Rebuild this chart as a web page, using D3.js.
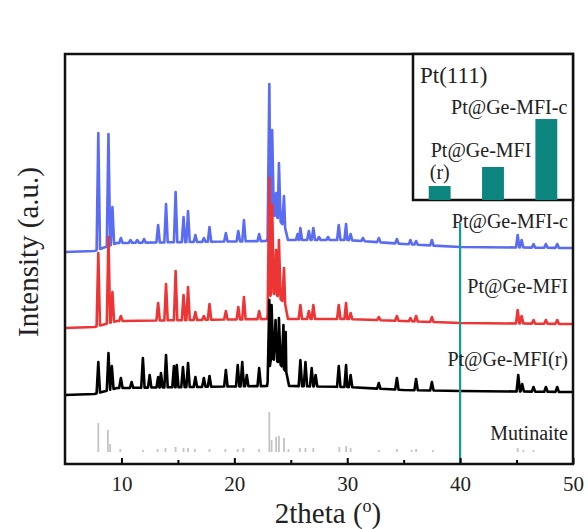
<!DOCTYPE html>
<html>
<head>
  <meta charset="utf-8">
  <title>XRD patterns of Pt@Ge-MFI samples</title>
  <script src="https://d3js.org/d3.v7.min.js"></script>
  <style>
    body { margin: 0; background: #fff; }
    text { font-family: "Liberation Serif", "Times New Roman", serif; }
  </style>
</head>
<body>
<div id="chart"></div>
<script>

// x axis ticks (2theta, degrees)
const xTicks = [10, 20, 30, 40, 50];
const xMinorTicks = [15, 25, 35, 45];

// Background level of each trace, [2theta, intensity]
const baseBlue = [[5, 212], [7.6, 213], [9.6, 221], [22.9, 223], [23.25, 250], [23.85, 246], [24.5, 236], [24.75, 224], [30, 224], [35, 220], [40, 217], [50, 216]];
const baseRed = [[5, 136], [7.6, 137], [9.6, 143], [22.9, 145], [23.25, 172], [23.85, 168], [24.5, 160], [24.75, 145], [30, 145], [35, 143], [40, 141], [50, 140]];
const baseBlack = [[5, 69], [7.6, 70], [9.6, 76], [22.9, 78], [23.25, 106], [23.9, 102], [24.6, 92], [24.85, 78], [30, 77], [35, 74], [40, 73], [50, 72]];

// Peak tops, [2theta, intensity]
const peaksBlue = [[7.95, 331], [8.85, 330], [9.2, 257], [9.95, 226], [10.8, 224], [11.4, 224], [12.0, 225], [13.25, 239], [13.95, 260], [14.8, 272], [15.5, 247], [15.9, 253], [16.55, 229], [17.3, 226], [17.8, 237], [19.25, 231], [20.35, 233], [20.85, 244], [22.2, 230], [23.1, 380], [23.35, 334], [23.7, 271], [23.95, 301], [24.4, 268], [25.6, 230], [25.85, 236], [26.6, 233], [27.0, 236], [27.5, 227], [28.3, 227], [29.25, 239], [29.9, 240], [30.3, 230], [31.4, 226], [32.8, 226], [34.4, 225], [35.6, 224], [36.1, 223], [37.5, 224], [45.1, 229], [45.45, 224], [46.5, 220], [47.6, 220], [48.6, 220]];
const peaksRed = [[7.95, 211], [8.85, 227], [9.2, 172], [9.95, 148], [13.25, 161], [13.95, 180], [14.8, 193], [15.5, 169], [15.9, 177], [16.55, 152], [17.3, 148], [17.8, 160], [19.25, 153], [20.35, 157], [20.85, 167], [22.2, 153], [23.1, 286], [23.35, 259], [23.7, 214], [23.95, 224], [24.4, 196], [25.85, 159], [26.6, 153], [27.0, 159], [29.25, 159], [29.9, 161], [30.3, 151], [32.8, 147], [34.4, 148], [35.6, 146], [36.1, 148], [37.5, 147], [45.1, 154], [45.45, 148], [46.5, 144], [47.6, 144], [48.6, 144]];
const peaksBlack = [[7.95, 102], [8.85, 111], [9.15, 98], [9.95, 86], [10.9, 82], [11.9, 106], [12.5, 89], [13.25, 87], [13.5, 91], [13.95, 109], [14.65, 98], [14.9, 99], [15.45, 97], [15.9, 101], [16.55, 87], [17.3, 86], [17.8, 88], [19.25, 94], [20.3, 99], [20.7, 102], [21.1, 89], [22.2, 96], [23.1, 164], [23.3, 159], [23.65, 144], [23.95, 146], [24.35, 139], [24.55, 132], [25.85, 104], [26.3, 102], [26.85, 96], [27.2, 89], [29.25, 98], [29.9, 99], [30.3, 89], [32.8, 81], [34.4, 86], [36.1, 85], [37.5, 82], [45.15, 89], [45.5, 80], [46.5, 77], [47.6, 77], [48.6, 77]];

// Mutinaite reference pattern (stick lines), [2theta, top]
const mutBase = 12;
const mutSticks = [[7.95, 41], [8.8, 34], [9.0, 20], [9.9, 15], [11.9, 14], [13.2, 15], [13.9, 16], [14.8, 17], [15.5, 16], [15.9, 16], [16.5, 15], [17.8, 15], [19.2, 15], [20.3, 15], [20.8, 16], [22.2, 15], [23.1, 52], [23.3, 24], [23.7, 27], [23.95, 28], [24.4, 26], [24.8, 15], [25.8, 16], [26.3, 16], [27.0, 16], [29.3, 17], [29.9, 18], [30.3, 16], [32.8, 14], [34.4, 15], [35.7, 14], [36.1, 15], [37.6, 14], [45.1, 16], [45.6, 14], [46.5, 14]];

const seriesNames = ["Pt@Ge-MFI-c", "Pt@Ge-MFI", "Pt@Ge-MFI(r)", "Mutinaite"];

// Pt(111) marker line
const pt111Pos = 40;
const pt111Top = 241;

// Inset: Pt(111) intensity
const insetCats = ["Pt@Ge-MFI(r)", "Pt@Ge-MFI", "Pt@Ge-MFI-c"];
const insetValues = [12.7, 30, 73.6];

const W = 588, H = 529;
const margin = {top: 54, right: 15, bottom: 65, left: 65};

const svg = d3.select("#chart").append("svg")
  .attr("width", W)
  .attr("height", H)
  .style("background", "#fff");

const x = d3.scaleLinear().domain([5, 50]).range([margin.left, W - margin.right]);
const y = d3.scaleLinear().domain([0, 410]).range([H - margin.bottom, margin.top]);

// one trace = background + narrow peaks
const hw = 0.15;
function tracePoints(base, peaks) {
  const bg = d3.scaleLinear().domain(base.map(d => d[0])).range(base.map(d => d[1]));
  const pts = base.map(d => [d[0], d[1]]);
  peaks.forEach(p => {
    pts.push([p[0] - hw, bg(p[0] - hw)]);
    pts.push([p[0], p[1]]);
    pts.push([p[0] + hw, bg(p[0] + hw)]);
  });
  return pts.sort((a, b) => a[0] - b[0]);
}

const line = d3.line().x(d => x(d[0])).y(d => y(d[1]));

// Mutinaite sticks
svg.append("g").selectAll("line")
  .data(mutSticks)
  .join("line")
    .attr("x1", d => x(d[0]))
    .attr("x2", d => x(d[0]))
    .attr("y1", y(mutBase))
    .attr("y2", d => y(d[1]))
    .attr("stroke", "#c4c4c4")
    .attr("stroke-width", 1.8);

const traces = [
  {base: baseBlue, peaks: peaksBlue, color: "#5a6cf2"},
  {base: baseRed, peaks: peaksRed, color: "#ee3535"},
  {base: baseBlack, peaks: peaksBlack, color: "#000"}
];

svg.append("g").selectAll("path")
  .data(traces)
  .join("path")
    .attr("fill", "none")
    .attr("stroke", d => d.color)
    .attr("stroke-width", 2.6)
    .attr("stroke-linejoin", "round")
    .attr("d", d => line(tracePoints(d.base, d.peaks)));

// Pt(111) line
svg.append("line")
  .attr("x1", x(pt111Pos)).attr("x2", x(pt111Pos))
  .attr("y1", y(pt111Top)).attr("y2", y(0))
  .attr("stroke", "#179a9e")
  .attr("stroke-width", 2.2);

// series labels
const labelY = [228, 293, 366, 440];
svg.append("g").selectAll("text")
  .data(seriesNames)
  .join("text")
    .attr("x", W - 20)
    .attr("y", (d, i) => labelY[i])
    .attr("text-anchor", "end")
    .attr("font-size", 20)
    .attr("fill", "#222")
    .text(d => d);

// x axis, ticks pointing inward
const gx = svg.append("g").attr("transform", `translate(0,${y(0)})`);
gx.call(d3.axisBottom(x).tickValues(xTicks).tickSizeInner(-6).tickSizeOuter(0).tickPadding(12));
gx.append("g").call(d3.axisBottom(x).tickValues(xMinorTicks).tickSizeInner(-4).tickSizeOuter(0).tickFormat(""));
gx.selectAll(".domain").remove();
gx.selectAll(".tick line").attr("stroke", "#000").attr("stroke-width", 2);
gx.selectAll(".tick text")
  .attr("font-family", "Liberation Serif")
  .attr("font-size", 21)
  .attr("fill", "#222");

// frame
svg.append("rect")
  .attr("x", x(5)).attr("y", y(410))
  .attr("width", x(50) - x(5)).attr("height", y(0) - y(410))
  .attr("fill", "none")
  .attr("stroke", "#111")
  .attr("stroke-width", 2.5);

// axis titles
const xt = svg.append("text")
  .attr("x", 328).attr("y", 523)
  .attr("text-anchor", "middle")
  .attr("font-size", 29)
  .attr("fill", "#222");
xt.append("tspan").text("2theta (");
xt.append("tspan").attr("font-size", 18).attr("dy", -11).text("o");
xt.append("tspan").attr("dy", 11).text(")");

svg.append("text")
  .attr("transform", `translate(38,252) rotate(-90)`)
  .attr("text-anchor", "middle")
  .attr("font-size", 29)
  .attr("fill", "#222")
  .text("Intensity (a.u.)");

// inset
const ix = d3.scaleBand().domain(insetCats).range([413, W - margin.right]).paddingInner(0.59).paddingOuter(0.295);
const iy = d3.scaleLinear().domain([0, 100]).range([200, 90]);

svg.append("rect")
  .attr("x", 413).attr("y", margin.top)
  .attr("width", W - margin.right - 413).attr("height", 200 - margin.top)
  .attr("fill", "#fff")
  .attr("stroke", "#111")
  .attr("stroke-width", 2.5);

svg.append("g").selectAll("rect")
  .data(insetValues)
  .join("rect")
    .attr("x", (d, i) => ix(insetCats[i]))
    .attr("width", ix.bandwidth())
    .attr("y", d => iy(d))
    .attr("height", d => iy(0) - iy(d))
    .attr("fill", "#0b857e");

svg.append("text")
  .attr("x", 420).attr("y", 83)
  .attr("font-size", 23)
  .attr("fill", "#222")
  .text("Pt(111)");

svg.append("text")
  .attr("x", ix(insetCats[2]) + ix.bandwidth() + 10)
  .attr("y", iy(insetValues[2]) - 5)
  .attr("text-anchor", "end")
  .attr("font-size", 20)
  .attr("fill", "#222")
  .text("Pt@Ge-MFI-c");

svg.append("text")
  .attr("x", ix(insetCats[0]) + 2)
  .attr("y", iy(insetValues[0]) - 29)
  .attr("font-size", 20)
  .attr("fill", "#222")
  .text("Pt@Ge-MFI");

svg.append("text")
  .attr("x", ix(insetCats[0]) + 1)
  .attr("y", iy(insetValues[0]) - 7)
  .attr("font-size", 20)
  .attr("fill", "#222")
  .text("(r)");

</script>
</body>
</html>
